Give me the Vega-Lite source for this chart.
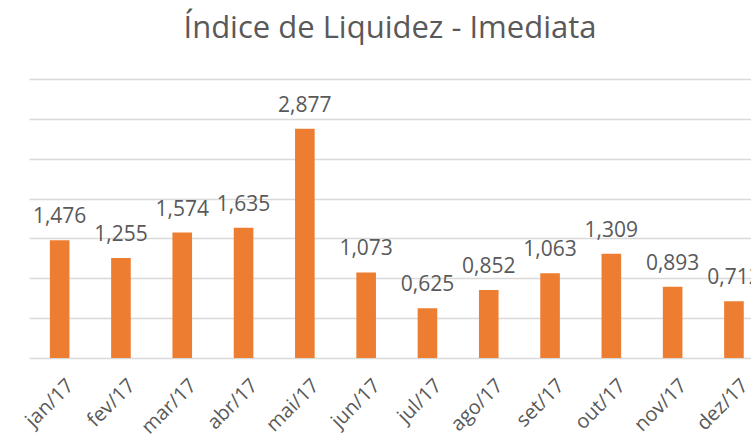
{
  "$schema": "https://vega.github.io/schema/vega-lite/v6.json",
  "autosize": "none",
  "width": 722,
  "height": 279,
  "padding": {"left": 29, "right": 0, "top": 79, "bottom": 77},
  "background": "white",
  "config": {
    "view": {"stroke": null},
    "locale": {"number": {"decimal": ",", "thousands": ".", "grouping": [3], "currency": ["R$", ""]}},
    "font": "Open Sans"
  },
  "title": {
    "text": "Índice de Liquidez - Imediata",
    "fontSize": 31,
    "font": "Open Sans",
    "fontWeight": "normal",
    "color": "#595959",
    "anchor": "middle",
    "baseline": "alphabetic",
    "offset": 10
  },
  "data": {
    "values": [
      {"mes": "jan/17", "valor": 1.476},
      {"mes": "fev/17", "valor": 1.255},
      {"mes": "mar/17", "valor": 1.574},
      {"mes": "abr/17", "valor": 1.635},
      {"mes": "mai/17", "valor": 2.877},
      {"mes": "jun/17", "valor": 1.073},
      {"mes": "jul/17", "valor": 0.625},
      {"mes": "ago/17", "valor": 0.852},
      {"mes": "set/17", "valor": 1.063},
      {"mes": "out/17", "valor": 1.309},
      {"mes": "nov/17", "valor": 0.893},
      {"mes": "dez/17", "valor": 0.712}
    ]
  },
  "encoding": {
    "x": {
      "field": "mes",
      "type": "nominal",
      "sort": null,
      "scale": {"range": [0, 735.6], "paddingInner": 0.68, "paddingOuter": 0.34},
      "axis": {
        "title": null,
        "labelAngle": -45,
        "labelFontSize": 20,
        "labelColor": "#595959",
        "labelFont": "Open Sans",
        "labelBaseline": "top",
        "labelAlign": "right",
        "labelPadding": 17,
        "labelOffset": 4,
        "ticks": false,
        "domain": false,
        "grid": false
      }
    },
    "y": {
      "field": "valor",
      "type": "quantitative",
      "scale": {"domain": [0, 3.5], "nice": false},
      "axis": {
        "title": null,
        "labels": false,
        "ticks": false,
        "domain": false,
        "values": [0, 0.5, 1, 1.5, 2, 2.5, 3, 3.5],
        "gridColor": "#d9d9d9",
        "gridWidth": 1.3
      }
    }
  },
  "layer": [
    {"mark": {"type": "bar", "color": "#ED7D31"}},
    {
      "mark": {"type": "text", "baseline": "alphabetic", "dy": -17, "fontSize": 21, "color": "#595959", "font": "Open Sans"},
      "encoding": {"text": {"field": "valor", "type": "quantitative", "format": ".3f"}}
    }
  ]
}
